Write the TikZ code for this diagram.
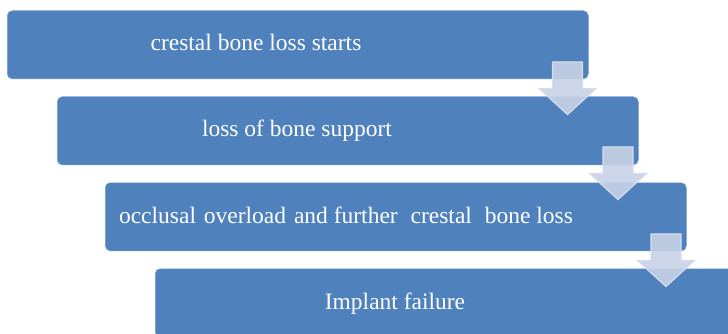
\documentclass[tikz,border=0pt]{standalone}
\usepackage{fontspec}
\setmainfont{Liberation Serif}
\definecolor{boxblue}{RGB}{79,129,189}
\definecolor{arrowfill}{RGB}{200,210,230}
\definecolor{arrowline}{RGB}{214,221,235}
\begin{document}
\begin{tikzpicture}[x=1pt,y=-1pt,
  stepbox/.style={rectangle, rounded corners=5pt, fill=boxblue, draw=boxblue!80!white, line width=0.6pt,
    minimum width=581pt, minimum height=68pt, inner sep=0pt, anchor=north west},
  steptext/.style={text=white, font=\fontsize{23.5}{26}\selectfont, inner sep=0pt, anchor=base},
  downarrow/.pic={\path[fill=arrowfill, fill opacity=0.9, draw=arrowline, line width=1.2pt]
      (-15,0) -- (15,0) -- (15,26.5) -- (28.5,26.5) -- (0,52.5) -- (-28.5,26.5) -- (-15,26.5) -- cycle;}
]
\useasboundingbox (0,0) rectangle (728,334);
\begin{scope}
\clip (0,0) rectangle (728,334);
\node[stepbox] (b1) at (7,10.5) {};
\node[stepbox] (b2) at (57,96.5) {};
\node[stepbox] (b3) at (105,182.5) {};
\node[stepbox] (b4) at (155,268.5) {};
\node[steptext] (t1) at (256,51) {crestal bone loss starts};
\node[steptext] (t2) at (297,137) {loss of bone support};
\node[steptext] (t3) at (346,223) {occlusal\hspace{2pt} overload\hspace{2pt} and further\hspace{7pt} crestal\hspace{7pt} bone loss};
\node[steptext] (t4) at (395,309) {Implant failure};
\pic at (567.5,62) {downarrow};
\pic at (618,147) {downarrow};
\pic at (666,234) {downarrow};
\end{scope}
\end{tikzpicture}
\end{document}
